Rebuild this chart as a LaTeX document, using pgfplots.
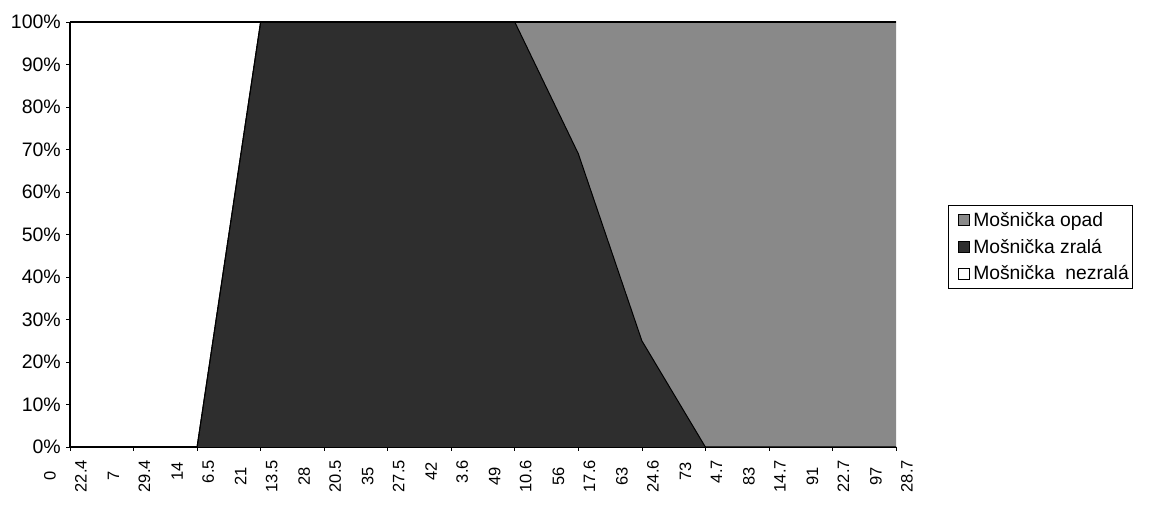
\documentclass[border=0pt]{standalone}
\usepackage{fontspec}
\setmainfont{Liberation Sans}
\usepackage{pgfplots}
\pgfplotsset{compat=1.18}
\usepackage{pgfplotstable}
\definecolor{zrala}{HTML}{2E2E2E}
\definecolor{opad}{HTML}{898989}
\newcommand{\twol}[2]{\begin{tabular}{@{}c@{}}#1\\#2\end{tabular}}
% x  zrala opad nezrala  cumulative: z = zrala, zo = zrala+opad, top = 100
\pgfplotstableread{
x  zrala opad nezrala z   zo  top
0  0     0    100     0   0   100
1  0     0    100     0   0   100
2  0     0    100     0   0   100
3  100   0    0       100 100 100
4  100   0    0       100 100 100
5  100   0    0       100 100 100
6  100   0    0       100 100 100
7  100   0    0       100 100 100
8  69    31   0       69  100 100
9  25    75   0       25  100 100
10 0     100  0       0   100 100
11 0     100  0       0   100 100
12 0     100  0       0   100 100
13 0     100  0       0   100 100
}\datatable
\begin{document}
\begin{tikzpicture}[x=1pt,y=1pt]
\path[use as bounding box] (-70,-63) rectangle (1080,447);
\begin{axis}[
  at={(0,0)}, anchor=origin,
  scale only axis, width=826pt, height=425pt,
  xmin=0, xmax=13, ymin=0, ymax=100,
  axis x line*=bottom, axis y line*=left,
  axis line style={line width=1.3pt, black, -},
  xtick={0,...,13},
  xticklabels={\twol{0}{22.4},\twol{7}{29.4},\twol{14}{6.5},\twol{21}{13.5},\twol{28}{20.5},\twol{35}{27.5},\twol{42}{3.6},\twol{49}{10.6},\twol{56}{17.6},\twol{63}{24.6},\twol{73}{4.7},\twol{83}{14.7},\twol{91}{22.7},\twol{97}{28.7}},
  xticklabel style={xshift=-5pt, yshift=-9pt, rotate=90, anchor=east, font=\fontsize{16.5}{31}\selectfont, inner sep=0pt},
  ytick={0,10,...,100},
  yticklabels={0\%,10\%,20\%,30\%,40\%,50\%,60\%,70\%,80\%,90\%,100\%},
  yticklabel style={xshift=-5pt, font=\fontsize{19.5}{20}\selectfont, inner sep=0pt},
  tick align=outside, major tick length=4pt,
  tick style={black, line width=0.6pt},
  clip=false,
  legend style={at={(1.063,0.372)}, anchor=south west, draw=black, line width=0.8pt,
    font=\fontsize{19.3}{20}\selectfont, row sep=7pt, inner xsep=2pt, inner ysep=5pt,
    cells={anchor=west}},
  legend cell align=left,
  legend image code/.code={\path (0pt,0pt); \draw[#1, draw=black, line width=0.7pt] (7pt,-5.5pt) rectangle (18pt,5.5pt); \path (20pt,0pt);},
]
\addplot[fill=opad, draw=none, forget plot] table[x=x, y=zo] {\datatable} \closedcycle;
\addplot[fill=zrala, draw=none, forget plot] table[x=x, y=z] {\datatable} \closedcycle;
\addplot[black, line width=1pt, forget plot] table[x=x, y=zo] {\datatable};
\addplot[black, line width=1pt, forget plot] table[x=x, y=z] {\datatable};
\addplot[black, line width=1.2pt, forget plot] table[x=x, y=top] {\datatable};
\addlegendimage{fill=opad}
\addlegendentry{Mošnička opad}
\addlegendimage{fill=zrala}
\addlegendentry{Mošnička zralá}
\addlegendimage{fill=white}
\addlegendentry{Mošnička\ \ nezralá\hspace{6pt}}
\end{axis}
\end{tikzpicture}
\end{document}
